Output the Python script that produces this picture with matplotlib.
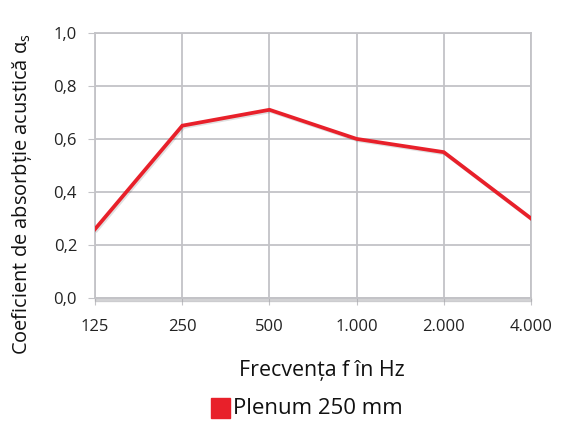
import matplotlib.pyplot as plt
import matplotlib.patheffects as pe
from matplotlib.patches import Rectangle

# data
freq_labels = ["125", "250", "500", "1.000", "2.000", "4.000"]
alpha_s = [0.26, 0.65, 0.71, 0.60, 0.55, 0.30]
y_ticks = [0.0, 0.2, 0.4, 0.6, 0.8, 1.0]
series_name = "Plenum 250 mm"

plt.rcParams['font.family'] = ['Open Sans', 'DejaVu Sans']

fig = plt.figure(figsize=(5.63, 4.23), dpi=100)
ax = fig.add_axes([0.169, 0.296, 0.774, 0.626])

x = list(range(len(freq_labels)))
grid_col = "#c3c3c7"

# soft shadow below the frame
ax.add_patch(Rectangle((0, -0.012), len(x) - 1, 0.012, transform=ax.transData,
                       color="#a8a8ac", clip_on=False, zorder=1, alpha=0.45))

ax.plot(x, alpha_s, color="#e8202a", lw=2.7, solid_joinstyle="miter", zorder=3,
        path_effects=[pe.SimpleLineShadow(offset=(1, -1), alpha=0.12),
                      pe.Normal()])

ax.set_xlim(0, len(x) - 1)
ax.set_ylim(0, 1.0)
ax.set_xticks(x)
ax.set_xticklabels(freq_labels)
ax.set_yticks(y_ticks)
ax.set_yticklabels([f"{v:.1f}".replace(".", ",") for v in y_ticks])
ax.grid(True, color=grid_col, lw=1.3)
ax.set_axisbelow(True)
for s in ax.spines.values():
    s.set_color(grid_col)
    s.set_linewidth(1.3)

ax.tick_params(axis="x", length=5, color=grid_col, pad=10, labelsize=12)
ax.tick_params(axis="y", length=5, color=grid_col, pad=8, labelsize=12)
for lab in ax.get_xticklabels() + ax.get_yticklabels():
    lab.set_color("#222222")

ax.set_xlabel("Frecvența f în Hz", fontsize=15.4, color="#111111")
ax.xaxis.set_label_coords(0.52, -0.235)
ax.set_ylabel(r"Coeficient de absorbție acustică $\mathregular{\alpha_s}$",
              fontsize=14.4, color="#111111")
ax.yaxis.set_label_coords(-0.14, 0.39)

# legend
fig.patches.append(Rectangle((0.374, 0.013), 0.034, 0.046, transform=fig.transFigure,
                             color="#e8202a", figure=fig))
fig.text(0.413, 0.034, series_name, fontsize=16, va="center", ha="left", color="#111111")

fig.savefig("out.png", dpi=100)
